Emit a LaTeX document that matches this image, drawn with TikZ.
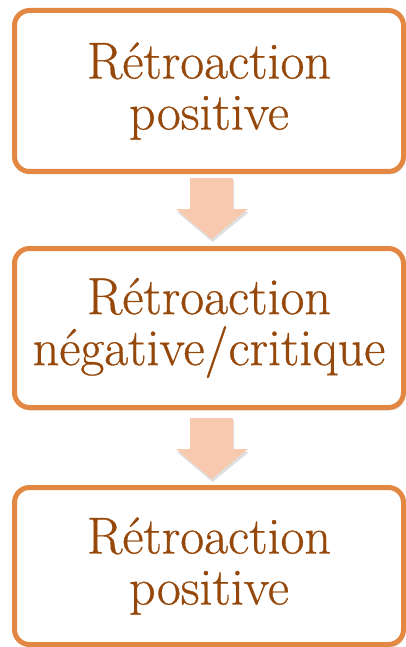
\documentclass[tikz,border=0pt]{standalone}
\usepackage{fontspec}
\newfontfamily\boxfont{Latin Modern Roman}[FakeBold=0.6]
\usetikzlibrary{shadows}
\definecolor{frameorange}{RGB}{226,136,66}
\definecolor{textbrown}{RGB}{150,72,10}
\definecolor{arrowpeach}{RGB}{249,201,175}
\tikzset{
  stagebox/.style={draw=frameorange, line width=5pt, rounded corners=15pt,
    fill=white, inner sep=0pt, align=center, text=textbrown,
    font=\boxfont\fontsize{52}{51}\selectfont,
    drop shadow={opacity=0.25, shadow xshift=1.5pt, shadow yshift=-3pt}},
  blockarrow/.style={fill=arrowpeach, draw=none,
    drop shadow={opacity=0.25, shadow xshift=1pt, shadow yshift=-3pt}}
}
\begin{document}
\begin{tikzpicture}[x=1pt,y=1pt]
  \useasboundingbox (0,0) rectangle (406,-647);
  % three stage boxes
  \node[stagebox, minimum width=389pt, minimum height=161pt] (s1) at (209,-91)
    {Rétroaction\\positive};
  \node[stagebox, minimum width=389pt, minimum height=159pt] (s2) at (209,-328)
    {Rétroaction\\négative/critique};
  \node[stagebox, minimum width=389pt, minimum height=157pt] (s3) at (209,-566)
    {Rétroaction\\positive};
  % downward block arrows between the boxes
  \coordinate (a1) at (211.5,-178);
  \coordinate (a2) at (211.5,-418);
  \foreach \a in {a1,a2}{
    \fill[blockarrow, shift={(\a)}]
      (-21.5,0) -- (21.5,0) -- (21.5,-31) -- (36.5,-31) -- (0,-61)
      -- (-35.5,-31) -- (-21.5,-31) -- cycle;
  }
\end{tikzpicture}
\end{document}
